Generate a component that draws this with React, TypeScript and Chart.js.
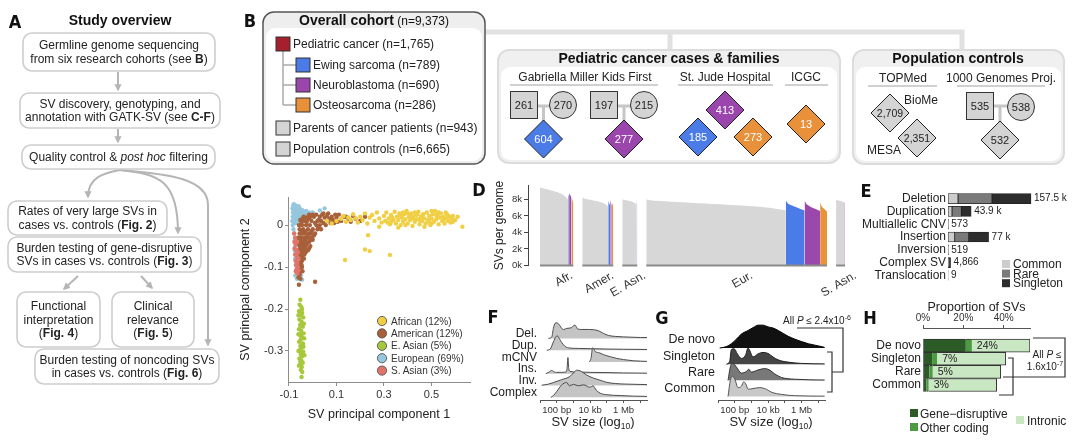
import React, { useEffect, useRef } from "react";
import { Chart, registerables } from "chart.js";

Chart.register(...registerables);

const FONT = "'Liberation Sans', Arial, Helvetica, sans-serif";
const NARROW = "'Liberation Sans Narrow', 'DejaVu Sans Condensed', 'Liberation Sans', sans-serif";
Chart.defaults.font.family = FONT;
Chart.defaults.color = "#222";

// ---------------- Panel C : SV principal components ----------------
const pcaGroups = ["African (12%)", "American (12%)", "E. Asian (5%)", "European (69%)", "S. Asian (3%)"];
const pcaColors = ["#f1cf45", "#a7603a", "#a7c83a", "#95c7de", "#e2736a"];
const pcaDrawOrder = [1, 3, 0, 4, 2];
const pcaXTicks = [-0.1, 0.1, 0.3, 0.5];
const pcaYTicks = [0, -0.1, -0.2, -0.3];

const africanPC = [
  [0.1, 0.01], [0.12, 0.015], [0.13, 0.022], [0.14, 0.008], [0.15, 0.018], [0.16, 0.012], [0.17, 0.026], [0.18, 0.016],
  [0.19, 0.006], [0.2, 0.02], [0.21, 0.012], [0.22, 0.028], [0.23, 0.004], [0.24, 0.018], [0.25, 0.024], [0.26, 0.01],
  [0.27, 0.03], [0.28, 0.016], [0.29, 0.006], [0.3, 0.022], [0.305, 0.01], [0.31, 0.03], [0.32, 0.016], [0.325, 0.002],
  [0.33, 0.024], [0.34, 0.012], [0.345, 0.032], [0.35, 0.004], [0.355, 0.02], [0.36, 0.012], [0.365, 0.028], [0.37, 0.0],
  [0.375, 0.018], [0.38, 0.008], [0.385, 0.026], [0.39, 0.014], [0.395, 0.034], [0.4, 0.004], [0.405, 0.02], [0.41, 0.012],
  [0.415, 0.028], [0.42, -0.002], [0.425, 0.016], [0.43, 0.008], [0.435, 0.024], [0.44, 0.014], [0.445, 0.032], [0.45, 0.002],
  [0.455, 0.02], [0.46, 0.01], [0.465, 0.026], [0.47, 0.016], [0.475, 0.004], [0.48, 0.03], [0.485, 0.012], [0.49, 0.022],
  [0.495, 0.0], [0.5, 0.016], [0.505, 0.026], [0.51, 0.008], [0.515, 0.034], [0.52, 0.014], [0.525, 0.022], [0.53, 0.002],
  [0.535, 0.018], [0.54, 0.028], [0.545, 0.01], [0.55, 0.02], [0.555, 0.004], [0.56, 0.016], [0.565, 0.026], [0.57, 0.01],
  [0.575, 0.02], [0.58, 0.006], [0.585, 0.016], [0.59, 0.022], [0.6, 0.012], [0.61, 0.02], [0.63, -0.004], [0.36, -0.006],
  [0.43, 0.03], [0.5, 0.034], [0.33, 0.008], [0.41, 0.024], [0.47, -0.004], [0.53, 0.03], [0.233, -0.024], [0.22, -0.058],
  [0.24, -0.062], [0.325, -0.071], [0.136, -0.083], [0.08, 0.004], [0.06, 0.01], [0.28, -0.004], [0.38, 0.03],
  [0.315, 0.006], [0.335, 0.018], [0.37, 0.022], [0.39, 0.0], [0.42, 0.02], [0.44, 0.026], [0.46, 0.018], [0.49, 0.008],
  [0.52, 0.024], [0.55, 0.012], [0.57, 0.022], [0.59, 0.008], [0.4, 0.028], [0.45, 0.012], [0.5, 0.004], [0.56, 0.03],
];
const americanPC = [
  [-0.058, 0.0], [-0.055, -0.01], [-0.052, 0.012], [-0.05, -0.02], [-0.048, 0.005], [-0.045, -0.03], [-0.043, 0.015], [-0.04, -0.01],
  [-0.038, -0.04], [-0.035, 0.01], [-0.033, -0.02], [-0.03, -0.05], [-0.028, 0.0], [-0.025, 0.018], [-0.022, -0.03], [-0.02, -0.01],
  [-0.018, 0.015], [-0.015, -0.04], [-0.012, 0.0], [-0.01, 0.02], [-0.008, -0.02], [-0.005, 0.01], [0.0, -0.01], [0.005, 0.02],
  [0.01, 0.005], [0.015, 0.025], [0.02, 0.01], [0.025, -0.005], [0.03, 0.02], [0.035, 0.01], [0.04, 0.025], [0.045, 0.005],
  [0.05, 0.018], [0.06, 0.01], [0.065, 0.028], [0.07, 0.015], [0.08, 0.02], [0.09, 0.005], [0.1, 0.018], [0.11, 0.025],
  [0.12, 0.01], [0.13, 0.02], [0.15, 0.015], [0.17, 0.022], [0.2, 0.01], [0.22, 0.02], [-0.062, -0.03], [-0.06, -0.045],
  [-0.058, -0.06], [-0.055, -0.07], [-0.05, -0.055], [-0.047, -0.065], [-0.052, -0.08], [-0.06, -0.09], [-0.056, -0.1], [-0.05, -0.09],
  [-0.045, -0.075], [-0.04, -0.06], [-0.035, -0.07], [-0.03, -0.03], [-0.025, -0.045], [-0.02, -0.06], [-0.01, -0.05], [0.0, -0.035],
  [0.01, -0.02], [-0.064, -0.11], [-0.06, -0.125], [-0.058, -0.142], [0.01, -0.135], [-0.04, -0.02], [-0.015, 0.025], [0.0, 0.025],
  [-0.045, 0.0], [-0.035, -0.045], [-0.025, 0.008], [-0.015, -0.02], [-0.005, -0.03], [0.02, -0.01], [0.03, 0.0], [0.045, 0.028],
  [0.055, 0.0], [0.075, 0.005], [0.095, 0.025], [-0.055, -0.03], [-0.05, -0.04], [-0.045, -0.015], [-0.04, -0.045], [-0.035, -0.035],
  [-0.03, -0.015], [-0.025, -0.06], [-0.02, -0.025], [-0.015, -0.055], [-0.01, -0.035], [-0.005, -0.015], [0.005, -0.025], [0.015, 0.0],
  [0.025, 0.012], [0.035, -0.01], [-0.055, -0.05], [-0.048, -0.045], [-0.042, -0.055], [-0.037, -0.08], [-0.03, -0.065], [-0.045, -0.1],
  [-0.05, -0.11], [0.06, 0.022], [0.085, 0.012], [0.105, 0.008], [0.14, 0.02], [0.16, 0.008], [0.18, 0.015], [-0.038, 0.02],
  [-0.055, -0.02], [-0.052, -0.035], [-0.048, -0.06], [-0.045, -0.085], [-0.05, -0.1], [-0.042, -0.035], [-0.038, -0.055],
  [-0.033, -0.045], [-0.028, -0.04], [-0.053, -0.065], [-0.047, -0.095], [-0.043, -0.11], [-0.055, -0.118], [-0.052, -0.128],
];
const eastAsianPC = [
  [-0.052, -0.178], [-0.055, -0.19], [-0.048, -0.195], [-0.058, -0.205], [-0.045, -0.21], [-0.052, -0.215], [-0.04, -0.22],
  [-0.056, -0.225], [-0.047, -0.23], [-0.053, -0.238], [-0.042, -0.242], [-0.058, -0.248], [-0.049, -0.252], [-0.038, -0.258],
  [-0.054, -0.262], [-0.044, -0.268], [-0.05, -0.272], [-0.057, -0.278], [-0.041, -0.282], [-0.052, -0.288], [-0.046, -0.292],
  [-0.055, -0.298], [-0.04, -0.302], [-0.05, -0.308], [-0.044, -0.312], [-0.056, -0.318], [-0.048, -0.322], [-0.042, -0.328],
  [-0.053, -0.332], [-0.046, -0.338], [-0.05, -0.345], [-0.044, -0.35], [-0.047, -0.362], [-0.06, -0.26], [-0.036, -0.27],
  [-0.06, -0.3], [-0.037, -0.235], [-0.06, -0.215], [-0.035, -0.31], [-0.045, -0.2], [-0.052, -0.325], [-0.058, -0.335],
  [-0.039, -0.29], [-0.049, -0.24], [-0.043, -0.285], [-0.051, -0.3], [-0.047, -0.205], [-0.05, -0.262],
];
const europeanPC = [
  [-0.085, 0.04], [-0.083, 0.03], [-0.082, 0.045], [-0.08, 0.05], [-0.08, 0.035], [-0.079, 0.02], [-0.078, 0.042], [-0.077, 0.028],
  [-0.076, 0.012], [-0.075, 0.048], [-0.074, 0.036], [-0.073, 0.022], [-0.072, 0.005], [-0.071, 0.04], [-0.07, 0.03], [-0.069, 0.015],
  [-0.068, 0.045], [-0.067, 0.025], [-0.066, 0.008], [-0.065, 0.035], [-0.064, 0.02], [-0.062, 0.04], [-0.061, 0.028], [-0.06, 0.012],
  [-0.058, 0.033], [-0.056, 0.022], [-0.055, 0.04], [-0.053, 0.015], [-0.05, 0.03], [-0.048, 0.02], [-0.045, 0.036], [-0.042, 0.026],
  [-0.04, 0.012], [-0.036, 0.03], [-0.032, 0.02], [-0.028, 0.034], [-0.024, 0.025], [-0.02, 0.015], [-0.015, 0.03], [-0.01, 0.022],
  [0.0, 0.03], [0.01, 0.025], [0.05, 0.04], [0.03, 0.035], [-0.086, 0.01], [-0.084, 0.0], [-0.081, -0.01], [-0.078, -0.02],
  [-0.075, -0.035], [-0.072, -0.05], [-0.07, -0.065], [-0.074, -0.08], [-0.071, -0.095], [-0.068, -0.11], [-0.073, -0.12],
  [-0.066, -0.128], [-0.069, -0.04], [-0.076, -0.06], [-0.064, -0.09], [-0.062, -0.115], [-0.05, -0.12], [-0.045, -0.13],
  [-0.084, 0.02], [-0.081, 0.04], [-0.077, 0.005], [-0.074, 0.045], [-0.07, 0.02], [-0.066, 0.042], [-0.063, 0.03], [-0.059, 0.045],
];
const southAsianPC = [
  [-0.078, -0.02], [-0.074, -0.03], [-0.072, -0.045], [-0.076, -0.055], [-0.069, -0.06], [-0.074, -0.07], [-0.067, -0.075],
  [-0.072, -0.085], [-0.065, -0.09], [-0.07, -0.095], [-0.063, -0.1], [-0.068, -0.105], [-0.065, -0.115], [-0.06, -0.108],
  [-0.066, -0.04], [-0.062, -0.065], [-0.06, -0.08], [-0.071, -0.11], [-0.077, -0.04],
];

// ---------------- Panel D : SVs per genome (thousands), sorted per sample ----------------
const popLabels = ["Afr.", "Amer.", "E. Asn.", "Eur.", "S. Asn."];
const cohortColors = ["#d7d7d7", "#4a7be6", "#9a48ab", "#e8923a"]; // controls, Ewing, neuroblastoma, osteosarcoma
const afrCounts = [980, 30, 80, 65];
const amerCounts = [900, 70, 50, 55];
const easCounts = [480, 15, 10, 15];
const eurCounts = [4840, 650, 540, 240];
const sasCounts = [280, 5, 20, 5];
const afrSVs = [
  [9.43, 9.38, 9.32, 9.27, 9.22, 9.17, 9.12, 9.06, 9.0, 8.94, 8.87, 8.79, 8.7, 8.58, 8.42, 8.2, 7.95],
  [8.6, 8.3], [8.75, 8.5, 8.2], [8.3, 8.1, 7.8, 7.5],
];
const amerSVs = [
  [8.2, 8.1, 8.05, 8.0, 7.95, 7.9, 7.85, 7.8, 7.74, 7.68, 7.6, 7.5, 7.35, 7.1],
  [7.8, 7.5, 7.2], [7.95, 7.6, 7.3], [7.6, 7.4, 7.0],
];
const easSVs = [
  [8.0, 7.95, 7.9, 7.85, 7.8, 7.72, 7.6, 7.4],
  [7.9, 7.6], [7.7], [7.6, 7.4],
];
const eurSVs = [
  [7.98, 7.85, 7.8, 7.75, 7.7, 7.65, 7.6, 7.55, 7.5, 7.45, 7.4, 7.35, 7.3, 7.25, 7.2, 7.13, 7.05, 6.95, 6.8, 6.7],
  [7.86, 7.5, 7.35, 7.25, 7.15, 7.05, 6.95, 6.85, 6.75, 6.65],
  [7.86, 7.4, 7.25, 7.12, 7.0, 6.9, 6.8, 6.7, 6.6],
  [7.67, 7.2, 7.0, 6.85, 6.7, 6.5],
];
const sasSVs = [
  [7.98, 7.9, 7.85, 7.8, 7.72, 7.6],
  [7.7], [7.75, 7.6], [7.5],
];
const dYTicks = [0, 2, 4, 6, 8];

// ---------------- Panel E : SV counts by class (thousands) ----------------
const svClasses = ["Deletion", "Duplication", "Multiallelic CNV", "Insertion", "Inversion", "Complex SV", "Translocation"];
const svCommon = [19.0, 7.6, 0.05, 12.7, 0.05, 0.3, 0.0];
const svRare = [64.5, 17.7, 0.2, 26.6, 0.17, 1.2, 0.002];
const svSingleton = [74.0, 18.6, 0.323, 37.7, 0.299, 3.366, 0.007];
const svTotalLabels = ["157.5 k", "43.9 k", "573", "77 k", "519", "4,866", "9"];
const freqLabels = ["Common", "Rare", "Singleton"];
const freqColors = ["#cdcdcd", "#7a7a7a", "#2d2d2d"];

// ---------------- Panel F : SV size density by class ([log10 size, density]) ----------------
const fRows = ["Del.", "Dup.", "mCNV", "Ins.", "Inv.", "Complex"];
const fDel = [[1.5, 0], [1.7, 0.1], [1.8, 0.85], [1.9, 1.28], [2.0, 1.32], [2.1, 1.25], [2.25, 0.95], [2.4, 0.75], [2.6, 0.85], [2.9, 0.92], [3.05, 1.12], [3.15, 1.05], [3.25, 0.8], [3.5, 0.76], [3.9, 0.76], [4.2, 0.74], [4.5, 0.65], [4.8, 0.42], [5.1, 0.25], [5.5, 0.17], [6.0, 0.13], [6.5, 0.1], [7.0, 0.08], [7.4, 0.07]];
const fDup = [[1.4, 0], [1.6, 0.08], [1.8, 0.7], [1.95, 1.15], [2.05, 1.2], [2.15, 1.0], [2.3, 0.65], [2.5, 0.32], [2.8, 0.18], [3.3, 0.15], [4.0, 0.13], [5.0, 0.1], [6.0, 0.08], [7.4, 0.06]];
const fMcnv = [[3.95, 0], [4.05, 0.3], [4.15, 1.2], [4.22, 1.1], [4.3, 0.88], [4.5, 0.8], [4.8, 0.62], [5.2, 0.45], [5.6, 0.3], [6.0, 0.2], [6.6, 0.1], [7.4, 0.05]];
const fIns = [[1.35, 0], [1.55, 0.15], [1.7, 0.28], [1.85, 0.15], [2.0, 0.12], [2.3, 0.12], [2.55, 0.15], [2.62, 0.45], [2.67, 1.38], [2.72, 0.45], [2.8, 0.2], [3.2, 0.15], [4.0, 0.12], [5.0, 0.1], [6.0, 0.07], [7.4, 0.05]];
const fInv = [[1.1, 0.03], [1.5, 0.12], [1.8, 0.25], [2.3, 0.5], [2.8, 0.78], [3.05, 1.15], [3.2, 1.3], [3.4, 1.25], [3.8, 0.88], [4.2, 0.63], [4.6, 0.45], [5.0, 0.27], [5.5, 0.17], [6.2, 0.12], [7.4, 0.08]];
const fComplex = [[1.65, 0], [1.8, 0.15], [2.0, 0.5], [2.3, 1.06], [2.6, 1.26], [2.75, 0.98], [3.0, 1.1], [3.3, 0.98], [3.6, 1.06], [4.0, 0.86], [4.17, 0.98], [4.37, 0.6], [4.6, 0.35], [5.0, 0.22], [5.8, 0.15], [6.6, 0.1], [7.4, 0.08]];
const sizeTicks = [1, 2, 3, 4, 5, 6, 7];
const sizeTickLabels = ["", "100 bp", "", "10 kb", "", "1 Mb", ""];

// ---------------- Panel G : SV size density by frequency ----------------
const gRows = ["De novo", "Singleton", "Rare", "Common"];
const gColors = ["#111111", "#454545", "#787878", "#c8c8c8"];
const gDeNovo = [[1.1, 0], [1.5, 0.09], [1.8, 0.27], [2.1, 0.55], [2.4, 0.87], [2.8, 1.09], [3.1, 1.27], [3.4, 1.42], [3.7, 1.42], [4.0, 1.31], [4.3, 1.24], [4.6, 1.09], [4.9, 0.91], [5.2, 0.73], [5.6, 0.55], [6.0, 0.4], [6.4, 0.27], [6.8, 0.18], [7.2, 0.09], [7.38, 0.04]];
const gSingleton = [[1.5, 0], [1.7, 0.18], [1.8, 0.91], [1.96, 0.96], [2.16, 0.64], [2.4, 0.36], [2.64, 0.55], [2.8, 1.0], [2.91, 0.82], [3.09, 0.45], [3.39, 0.64], [3.69, 0.73], [3.99, 0.67], [4.29, 0.45], [4.59, 0.27], [5.18, 0.13], [5.98, 0.05], [7.38, 0.02]];
const gRare = [[1.6, 0], [1.76, 0.91], [1.9, 1.05], [2.1, 0.82], [2.4, 0.45], [2.7, 0.55], [2.84, 0.69], [3.0, 0.51], [3.39, 0.64], [3.79, 0.73], [4.09, 0.64], [4.39, 0.4], [4.79, 0.18], [5.58, 0.07], [7.38, 0.02]];
const gCommon = [[1.6, 0], [1.74, 1.0], [1.84, 1.25], [2.0, 1.09], [2.2, 0.55], [2.4, 0.64], [2.54, 0.91], [2.66, 0.78], [2.8, 0.45], [3.09, 0.49], [3.49, 0.55], [3.89, 0.45], [4.19, 0.27], [4.79, 0.13], [5.58, 0.05], [7.38, 0.02]];

// ---------------- Panel H : proportion of SVs (%) ----------------
const hRows = ["De novo", "Singleton", "Rare", "Common"];
const hGeneDisruptive = [21.2, 4.5, 3.2, 1.6];
const hOtherCoding = [3.0, 2.5, 1.6, 1.2];
const hIntronic = [28.8, 34.0, 33.7, 33.7];
const hCodingLabels = ["24%", "7%", "5%", "3%"];
const hXTicks = [0, 20, 40];
const hColors = ["#2c5b28", "#4d9a45", "#c9e7c2"];

// ---------------- helpers ----------------
const fixW = (w: number) => (s: any) => { s.width = w; };
const fixH = (h: number) => (s: any) => { s.height = h; };
const setTicks = (vals: number[]) => (s: any) => { s.ticks = vals.map((v) => ({ value: v })); };
const base = { animation: false, responsive: false, devicePixelRatio: 1, events: [] as string[] };
const noPlug = { legend: { display: false }, tooltip: { enabled: false } };
const fmtPC = (v: number) => (v === 0 ? "0" : (v < 0 ? "-" : "") + Math.abs(v).toFixed(1));

function configC() {
  const series = [africanPC, americanPC, eastAsianPC, europeanPC, southAsianPC];
  const axisCol = "#8c8c8c";
  return {
    type: "scatter",
    data: {
      datasets: series.map((pts, i) => ({
        label: pcaGroups[i],
        data: pts.map(([x, y]) => ({ x, y })),
        backgroundColor: pcaColors[i],
        borderWidth: 0,
        pointRadius: 2.2,
        order: pcaDrawOrder[i],
      })),
    },
    options: {
      ...base,
      layout: { padding: { top: 9, right: 5, bottom: 0, left: 0 } },
      plugins: noPlug,
      scales: {
        x: {
          type: "linear", min: -0.104, max: 0.662, afterFit: fixH(46), afterBuildTicks: setTicks(pcaXTicks),
          grid: { drawOnChartArea: false, color: axisCol, tickLength: 4 }, border: { color: axisCol },
          ticks: { font: { size: 11 }, color: "#333", padding: 2, maxRotation: 0, autoSkip: false, callback: fmtPC },
          title: { display: true, text: "SV principal component 1", font: { size: 12.5 }, color: "#222", padding: { top: 0, bottom: 5.5 } },
        },
        y: {
          type: "linear", min: -0.374, max: 0.067, afterFit: fixW(53), afterBuildTicks: setTicks(pcaYTicks),
          grid: { drawOnChartArea: false, color: axisCol, tickLength: 3 }, border: { color: axisCol },
          ticks: { font: { size: 11 }, color: "#333", padding: 2, autoSkip: false, callback: fmtPC },
          title: { display: true, text: "SV principal component 2", font: { size: 12.5 }, color: "#222", padding: { top: 3.5, bottom: 0 } },
        },
      },
    },
  };
}

const D_GAP = 312;
const D_LEAD = 416;
const D_TRAIL = 104;
function buildD() {
  const pops = [afrSVs, amerSVs, easSVs, eurSVs, sasSVs];
  const counts = [afrCounts, amerCounts, easCounts, eurCounts, sasCounts];
  const segs: any[] = [];
  const groups: any[] = [];
  let pos = 0;
  pops.forEach((pop, p) => {
    const start = pos;
    pop.forEach((vals, c) => {
      const n = counts[p][c];
      const pts = vals.length === 1
        ? [{ x: pos, y: vals[0] }, { x: pos + n, y: vals[0] }]
        : vals.map((v, k) => ({ x: pos + (n * k) / (vals.length - 1), y: v }));
      segs.push({ pts, color: cohortColors[c] });
      pos += n;
    });
    groups.push({ start, end: pos, label: popLabels[p] });
    pos += D_GAP;
  });
  return { segs, groups, total: pos - D_GAP };
}

function configD() {
  const { segs, groups, total } = buildD();
  const plugin = {
    id: "dgroups",
    afterDatasetsDraw(chart: any) {
      const { ctx, chartArea, scales } = chart;
      const x = scales.x;
      ctx.save();
      groups.forEach((g: any) => {
        const x0 = x.getPixelForValue(g.start);
        const x1 = x.getPixelForValue(g.end);
        ctx.strokeStyle = "#8a8a8a";
        ctx.lineWidth = 2;
        ctx.beginPath();
        ctx.moveTo(x0, chartArea.bottom);
        ctx.lineTo(x1, chartArea.bottom);
        ctx.stroke();
        ctx.save();
        ctx.translate((x0 + x1) / 2 + 12, chartArea.bottom + 4);
        ctx.rotate(-Math.PI / 6);
        ctx.font = `12px ${FONT}`;
        ctx.fillStyle = "#333";
        ctx.textAlign = "right";
        ctx.textBaseline = "top";
        ctx.fillText(g.label, 0, 0);
        ctx.restore();
      });
      ctx.restore();
    },
  };
  return {
    type: "line",
    data: {
      datasets: segs.map((s: any) => ({
        data: s.pts, fill: "origin", backgroundColor: s.color, borderColor: "rgba(0,0,0,0)", borderWidth: 0, pointRadius: 0, tension: 0,
      })),
    },
    options: {
      ...base,
      layout: { padding: { top: 3, right: 13, bottom: 32.5, left: 0 } },
      plugins: noPlug,
      scales: {
        x: { type: "linear", display: false, min: -D_LEAD, max: total + D_TRAIL },
        y: {
          min: 0, max: 9.66, afterFit: fixW(39), afterBuildTicks: setTicks(dYTicks),
          grid: { drawOnChartArea: false, color: "#444", tickLength: 4 }, border: { color: "#444" },
          ticks: { font: { size: 9.5 }, color: "#333", padding: 2, autoSkip: false, callback: (v: number) => `${v}k` },
          title: { display: true, text: "SVs per genome", font: { size: 12 }, color: "#222", padding: { top: 3.8, bottom: 0 } },
        },
      },
    },
    plugins: [plugin],
  };
}

function configE() {
  const parts = [svCommon, svRare, svSingleton];
  const plugin = {
    id: "elabels",
    afterDatasetsDraw(chart: any) {
      const { ctx, scales } = chart;
      ctx.save();
      ctx.font = `10px ${FONT}`;
      ctx.fillStyle = "#222";
      ctx.textBaseline = "middle";
      svClasses.forEach((_, i) => {
        const tot = svCommon[i] + svRare[i] + svSingleton[i];
        ctx.fillText(svTotalLabels[i], scales.x.getPixelForValue(tot) + 3, scales.y.getPixelForValue(i));
      });
      ctx.restore();
    },
  };
  return {
    type: "bar",
    data: {
      labels: svClasses,
      datasets: parts.map((vals, k) => ({
        label: freqLabels[k], data: vals, backgroundColor: freqColors[k], borderColor: "#222", borderWidth: 0.8,
        borderSkipped: false, barThickness: 10,
      })),
    },
    options: {
      ...base,
      indexAxis: "y",
      layout: { padding: { top: 1.5, right: 5, bottom: 1.5, left: 0 } },
      plugins: noPlug,
      scales: {
        x: { stacked: true, display: false, min: 0, max: 241 },
        y: {
          stacked: true, afterFit: fixW(98), grid: { display: false, drawTicks: false }, border: { display: false },
          ticks: { font: { size: 12 }, color: "#222", padding: 2, autoSkip: false },
        },
      },
    },
    plugins: [plugin],
  };
}

function ridgeConfig(rows: string[], curves: number[][][], fills: string[], borders: string[], yMin: number, yMax: number,
  yAxisW: number, labelLift: number, labelSize: number, padRight: number) {
  const n = rows.length;
  return {
    type: "line",
    data: {
      datasets: curves.map((pts, i) => {
        const b = n - 1 - i;
        return {
          data: pts.map(([lx, d]) => ({ x: lx, y: b + d })),
          fill: { value: b }, backgroundColor: fills[i], borderColor: borders[i], borderWidth: 1,
          pointRadius: 0, tension: 0.3, cubicInterpolationMode: "monotone", order: b,
        };
      }),
    },
    options: {
      ...base,
      layout: { padding: { top: 0, right: padRight, bottom: 0, left: 0 } },
      plugins: noPlug,
      scales: {
        x: {
          type: "linear", min: 1, max: 7.4, afterFit: fixH(20), afterBuildTicks: setTicks(sizeTicks),
          grid: { drawOnChartArea: false, color: "#555", tickLength: 3 }, border: { color: "#555" },
          ticks: { font: { size: 9.5 }, color: "#333", padding: 2, maxRotation: 0, minRotation: 0, autoSkip: false,
            callback: (_v: number, i: number) => sizeTickLabels[i] },
        },
        y: {
          min: yMin, max: yMax, afterFit: fixW(yAxisW),
          afterBuildTicks: setTicks(rows.map((_, i) => n - 1 - i + labelLift)),
          grid: { display: false, drawTicks: false }, border: { display: false },
          ticks: { font: { size: labelSize }, color: "#222", padding: 3, autoSkip: false,
            callback: (v: number) => rows[n - 1 - Math.round(v - labelLift)] },
        },
      },
    },
  };
}

function configF() {
  const curves = [fDel, fDup, fMcnv, fIns, fInv, fComplex];
  return ridgeConfig(fRows, curves, curves.map(() => "#c4c4c4"), curves.map(() => "#4d4d4d"), -0.227, 6.97, 60, 0.4, 12, 3);
}

function configG() {
  const curves = [gDeNovo, gSingleton, gRare, gCommon];
  return ridgeConfig(gRows, curves, gColors, ["#000", "#222", "#333", "#555"], -0.218, 5.019, 63, 0.5, 12.5, 10);
}

function configH() {
  const parts = [hGeneDisruptive, hOtherCoding, hIntronic];
  const bws = [
    { top: 1, bottom: 1, left: 1, right: 0 },
    { top: 1, bottom: 1, left: 0, right: 0 },
    { top: 1, bottom: 1, left: 0, right: 1 },
  ];
  const plugin = {
    id: "hlabels",
    afterDatasetsDraw(chart: any) {
      const { ctx, scales } = chart;
      ctx.save();
      ctx.font = `10.5px ${FONT}`;
      ctx.fillStyle = "#222";
      ctx.textBaseline = "middle";
      hRows.forEach((_, i) => {
        ctx.fillText(hCodingLabels[i], scales.x.getPixelForValue(hGeneDisruptive[i] + hOtherCoding[i]) + 5, scales.y.getPixelForValue(i));
      });
      ctx.restore();
    },
  };
  return {
    type: "bar",
    data: {
      datasets: parts.map((vals, k) => ({
        data: vals.map((v, i) => ({ x: v, y: i })), backgroundColor: hColors[k], borderColor: "#333", borderWidth: bws[k],
        borderSkipped: false, barThickness: 13,
      })),
    },
    options: {
      ...base,
      indexAxis: "y",
      layout: { padding: { top: 0, right: 50, bottom: 5, left: 0 } },
      plugins: noPlug,
      scales: {
        x: {
          position: "top", stacked: true, min: 0, max: 53, afterFit: fixH(28), afterBuildTicks: setTicks(hXTicks),
          grid: { drawOnChartArea: false, color: "#555", tickLength: 3 }, border: { color: "#555" },
          ticks: { font: { size: 10 }, color: "#333", padding: 1, maxRotation: 0, autoSkip: false, callback: (v: number) => `${v}%` },
          title: { display: true, text: "Proportion of SVs", font: { size: 12.5 }, color: "#222", padding: { top: 0.5, bottom: 0 } },
        },
        y: {
          type: "linear", stacked: true, reverse: true, min: -0.649, max: 3.514, afterFit: fixW(83),
          afterBuildTicks: setTicks(hRows.map((_, i) => i)),
          grid: { display: false, drawTicks: false }, border: { display: false },
          ticks: { font: { size: 12 }, color: "#222", padding: 2, autoSkip: false, callback: (v: number) => hRows[Math.round(v)] },
        },
      },
    },
    plugins: [plugin],
  };
}

function ChartCanvas({ x, y, w, h, make }: { x: number; y: number; w: number; h: number; make: () => any }) {
  const ref = useRef<HTMLCanvasElement>(null);
  useEffect(() => {
    const chart = new Chart(ref.current as HTMLCanvasElement, make());
    return () => chart.destroy();
  }, []);
  return <canvas ref={ref} width={w} height={h} style={{ position: "absolute", left: x, top: y, width: w, height: h }} />;
}

// ---------------- diagram helpers (panels A & B) ----------------
function rich(s: string) {
  const parts = s.split(/(\*\*[^*]+\*\*|_[^_]+_)/).filter(Boolean);
  return parts.map((p, i) =>
    p.startsWith("**") ? <tspan key={i} fontWeight="bold">{p.slice(2, -2)}</tspan>
      : p.startsWith("_") ? <tspan key={i} fontStyle="italic">{p.slice(1, -1)}</tspan>
        : <tspan key={i}>{p}</tspan>);
}

const flowBoxes = [
  { x: 23, y: 33, w: 192, h: 38, lines: ["Germline genome sequencing", "from six research cohorts (see **B**)"] },
  { x: 20, y: 93, w: 200, h: 35, lines: ["SV discovery, genotyping, and", "annotation with GATK-SV (see **C-F**)"] },
  { x: 22, y: 145, w: 193, h: 24, lines: ["Quality control & _post hoc_ filtering"] },
  { x: 8, y: 201, w: 159, h: 34, lines: ["Rates of very large SVs in", "cases vs. controls (**Fig. 2**)"] },
  { x: 8, y: 237, w: 193, h: 35, lines: ["Burden testing of gene-disruptive", "SVs in cases vs. controls (**Fig. 3**)"] },
  { x: 17, y: 292, w: 83, h: 55, lines: ["Functional", "interpretation", "(**Fig. 4**)"] },
  { x: 112, y: 292, w: 82, h: 55, lines: ["Clinical", "relevance", "(**Fig. 5**)"] },
  { x: 35, y: 349, w: 184, h: 35, lines: ["Burden testing of noncoding SVs", "in cases vs. controls (**Fig. 6**)"] },
];

function FlowBox({ x, y, w, h, lines }: any) {
  const lh = 13.5;
  const y0 = y + h / 2 - ((lines.length - 1) * lh) / 2 + 4.2;
  return (
    <g>
      <rect x={x} y={y} width={w} height={h} rx={9} fill="#fff" stroke="#cdcdcd" strokeWidth={1.6} />
      {lines.map((l: string, i: number) => (
        <text key={i} x={x + w / 2} y={y0 + i * lh} textAnchor="middle" fontSize={12} fill="#222" style={{ whiteSpace: "pre" }}>{rich(l)}</text>
      ))}
    </g>
  );
}

const RED = "#a51f2c", BLUE = "#4a7be6", PURPLE = "#9a46ad", ORANGE = "#e8903a", GRAY = "#d4d4d4";
const cohortItems = [
  { label: "Pediatric cancer (n=1,765)", color: RED, x: 276, y: 37 },
  { label: "Ewing sarcoma (n=789)", color: BLUE, x: 296, y: 58 },
  { label: "Neuroblastoma (n=690)", color: PURPLE, x: 296, y: 78 },
  { label: "Osteosarcoma (n=286)", color: ORANGE, x: 296, y: 98 },
  { label: "Parents of cancer patients (n=943)", color: GRAY, x: 276, y: 121 },
  { label: "Population controls (n=6,665)", color: GRAY, x: 276, y: 142 },
];

function Sq({ cx, cy, t }: any) {
  return (<g><rect x={cx - 13.5} y={cy - 13.5} width={27} height={27} fill={GRAY} stroke="#333" strokeWidth={1} />
    <text x={cx} y={cy + 4} textAnchor="middle" fontSize={11} fill="#222">{t}</text></g>);
}
function Ci({ cx, cy, t }: any) {
  return (<g><circle cx={cx} cy={cy} r={13.5} fill={GRAY} stroke="#333" strokeWidth={1} />
    <text x={cx} y={cy + 4} textAnchor="middle" fontSize={11} fill="#222">{t}</text></g>);
}
function Di({ cx, cy, t, fill, fs = 11 }: any) {
  const h = 19;
  return (<g><polygon points={`${cx},${cy - h} ${cx + h},${cy} ${cx},${cy + h} ${cx - h},${cy}`} fill={fill} stroke="#222" strokeWidth={1} />
    <text x={cx} y={cy + 4} textAnchor="middle" fontSize={fs} fill={fill === GRAY ? "#222" : "#fff"}>{t}</text></g>);
}

function Letter({ x, y, t }: any) {
  return <text x={x} y={y + 6.5} textAnchor="middle" fontSize={18} fontWeight="bold" fontFamily={NARROW} fill="#111">{t}</text>;
}

function Overlay() {
  const ac = "#b5b5b5";
  const link = "#c6c6c6";
  return (
    <svg width={1080} height={443} style={{ position: "absolute", left: 0, top: 0, pointerEvents: "none" }} fontFamily={FONT}>
      <defs>
        <marker id="arr" viewBox="0 0 10 10" refX="8" refY="5" markerWidth="3.6" markerHeight="3.6" orient="auto">
          <path d="M0,0 L10,5 L0,10 z" fill={ac} />
        </marker>
      </defs>
      {/* Panel letters */}
      <Letter x={15} y={21} t="A" />
      <Letter x={250} y={20} t="B" />
      <Letter x={246} y={191} t="C" />
      <Letter x={479} y={189} t="D" />
      <Letter x={866} y={190} t="E" />
      <Letter x={493} y={316} t="F" />
      <Letter x={662} y={317} t="G" />
      <Letter x={870} y={317} t="H" />

      {/* Panel A */}
      <text x={120} y={25} textAnchor="middle" fontSize={14} fontWeight="bold" fill="#111">Study overview</text>
      <g stroke={ac} strokeWidth={2} fill="none">
        <path d="M118 72 V90" markerEnd="url(#arr)" />
        <path d="M118 129 V142" markerEnd="url(#arr)" />
        <path d="M120 170 C 104 173, 88 177, 88 197" markerEnd="url(#arr)" />
        <path d="M120 170 C 160 174, 178 181, 178 233" markerEnd="url(#arr)" />
        <path d="M120 170 C 170 174, 208 179, 208 205 L 208 345" markerEnd="url(#arr)" />
        <path d="M78 276 L64 289" markerEnd="url(#arr)" />
        <path d="M141 276 L152 288" markerEnd="url(#arr)" />
      </g>
      {flowBoxes.map((b, i) => <FlowBox key={i} {...b} />)}

      {/* Panel B connectors */}
      <path d="M485 32 H962 V52" stroke="#e1e1e1" strokeWidth={5} fill="none" />
      <path d="M670 32 V52" stroke="#e1e1e1" strokeWidth={5} fill="none" />

      {/* Overall cohort */}
      <rect x={263} y={12} width={222} height={152} rx={11} fill="#eeeeee" stroke="#555" strokeWidth={1.5} />
      <rect x={266} y={28} width={216} height={133} rx={9} fill="#fff" />
      <text x={374} y={25} textAnchor="middle" fill="#111" style={{ whiteSpace: "pre" }}>
        <tspan fontWeight="bold" fontSize={14}>Overall cohort</tspan><tspan fontSize={12}> (n=9,373)</tspan>
      </text>
      <path d="M283 51 V105 M283 65 H296 M283 85 H296 M283 105 H296" stroke="#aaa" strokeWidth={1.5} fill="none" />
      {cohortItems.map((c, i) => (
        <g key={i}>
          <rect x={c.x} y={c.y} width={14} height={14} fill={c.color} stroke="#333" strokeWidth={1} />
          <text x={c.x + 17} y={c.y + 11.3} fontSize={12} fill="#222">{c.label}</text>
        </g>
      ))}

      {/* Pediatric cancer cases & families */}
      <rect x={498} y={50} width={342} height={113} rx={11} fill="#f0f0f0" stroke="#dcdcdc" strokeWidth={2} />
      <rect x={501} y={67} width={336} height={93} rx={9} fill="#fff" />
      <text x={669} y={63} textAnchor="middle" fontSize={14} fontWeight="bold" fill="#111">Pediatric cancer cases &amp; families</text>
      <text x={585} y={81} textAnchor="middle" fontSize={12} fill="#222">Gabriella Miller Kids First</text>
      <text x={725} y={81} textAnchor="middle" fontSize={12} fill="#222">St. Jude Hospital</text>
      <text x={806} y={81} textAnchor="middle" fontSize={12} fill="#222">ICGC</text>
      <g stroke="#d0d0d0" strokeWidth={2}>
        <path d="M510 85 H658 M678 85 H773 M785 85 H828" />
      </g>
      <g stroke={link} strokeWidth={3} fill="none">
        <path d="M537 106 H550 M543.5 106 V121" />
        <path d="M617 106 H631 M624 106 V121" />
      </g>
      <Sq cx={524} cy={105} t="261" />
      <Ci cx={563} cy={105} t="270" />
      <Di cx={543.5} cy={139} t="604" fill={BLUE} />
      <Sq cx={604} cy={105} t="197" />
      <Ci cx={644} cy={105} t="215" />
      <Di cx={624} cy={139} t="277" fill={PURPLE} />
      <Di cx={725} cy={110} t="413" fill={PURPLE} />
      <Di cx={698} cy={137} t="185" fill={BLUE} />
      <Di cx={753} cy={137} t="273" fill={ORANGE} />
      <Di cx={806} cy={124} t="13" fill={ORANGE} />

      {/* Population controls */}
      <rect x={853} y={50} width={211} height={114} rx={11} fill="#f0f0f0" stroke="#dcdcdc" strokeWidth={2} />
      <rect x={856} y={67} width={205} height={94} rx={9} fill="#fff" />
      <text x={958} y={63} textAnchor="middle" fontSize={14} fontWeight="bold" fill="#111">Population controls</text>
      <text x={903} y={82} textAnchor="middle" fontSize={12} fill="#222">TOPMed</text>
      <text x={1001} y={82} textAnchor="middle" fontSize={12} fill="#222">1000 Genomes Proj.</text>
      <path d="M868 86 H937 M957 86 H1045" stroke="#d0d0d0" strokeWidth={2} />
      <Di cx={890} cy={113} t="2,709" fill={GRAY} fs={10.5} />
      <Di cx={917} cy={138} t="2,351" fill={GRAY} fs={10.5} />
      <text x={904} y={104} fontSize={12} fill="#222">BioMe</text>
      <text x={867} y={154} fontSize={12} fill="#222">MESA</text>
      <path d="M993 106 H1008 M1000 106 V122" stroke={link} strokeWidth={3} fill="none" />
      <Sq cx={980} cy={106} t="535" />
      <Ci cx={1021} cy={107} t="538" />
      <Di cx={1000} cy={140} t="532" fill={GRAY} />

      {/* Panel C legend */}
      {pcaGroups.map((g, i) => (
        <g key={i}>
          <circle cx={382} cy={321 + i * 12.4} r={4.6} fill={pcaColors[i]} stroke="#555" strokeWidth={0.9} />
          <text x={391} y={324.6 + i * 12.4} fontSize={10} fill="#333">{g}</text>
        </g>
      ))}

      {/* Panel E legend */}
      {freqLabels.map((l, i) => (
        <g key={i}>
          <rect x={1002} y={260 + i * 9.6} width={8} height={8} fill={freqColors[i]} />
          <text x={1013} y={268 + i * 9.6} fontSize={12} fill="#222">{l}</text>
        </g>
      ))}

      {/* Panel F / G axis titles */}
      <text x={593} y={426} textAnchor="middle" fontSize={13} fill="#222" style={{ whiteSpace: "pre" }}>
        SV size (log<tspan fontSize={8.5} dy={3}>10</tspan><tspan dy={-3}>)</tspan>
      </text>
      <text x={771} y={426} textAnchor="middle" fontSize={13} fill="#222" style={{ whiteSpace: "pre" }}>
        SV size (log<tspan fontSize={8.5} dy={3}>10</tspan><tspan dy={-3}>)</tspan>
      </text>

      {/* Panel G brackets */}
      <text x={783} y={324} fontSize={10} fill="#222" style={{ whiteSpace: "pre" }}>
        All <tspan fontStyle="italic">P</tspan> ≤ 2.4x10<tspan fontSize={7} dy={-4}>-6</tspan>
      </text>
      <g stroke="#333" strokeWidth={1.2} fill="none">
        <path d="M797 328 H843 V372 H832" />
        <path d="M827 352 H832 V392 H827" />
      </g>

      {/* Panel H brackets + legend */}
      <g stroke="#333" strokeWidth={1.2} fill="none">
        <path d="M1033 338 H1065 V377 H1003" />
        <path d="M1008 358 H1013 V395 H999" />
      </g>
      <text x={1047} y={358} textAnchor="middle" fontSize={10} fill="#222" style={{ whiteSpace: "pre" }}>
        All <tspan fontStyle="italic">P</tspan> ≤
      </text>
      <text x={1045} y={370} textAnchor="middle" fontSize={10} fill="#222" style={{ whiteSpace: "pre" }}>
        1.6x10<tspan fontSize={7} dy={-4}>-7</tspan>
      </text>
      <rect x={910} y={409} width={8} height={8} fill={hColors[0]} />
      <text x={920} y={417.5} fontSize={12} fill="#222">Gene−disruptive</text>
      <rect x={910} y={423} width={8} height={8} fill={hColors[1]} />
      <text x={920} y={431.5} fontSize={12} fill="#222">Other coding</text>
      <rect x={1016} y={416} width={8} height={8} fill={hColors[2]} />
      <text x={1027} y={424.5} fontSize={12} fill="#222">Intronic</text>
    </svg>
  );
}

export default function App() {
  return (
    <div style={{ position: "fixed", left: 0, top: 0, width: 1080, height: 443, background: "#fff", overflow: "hidden", fontFamily: FONT }}>
      <ChartCanvas x={235} y={188} w={240} h={240} make={configC} />
      <ChartCanvas x={489} y={178} w={372} h={120} make={configD} />
      <ChartCanvas x={850} y={183} w={230} h={108} make={configE} />
      <ChartCanvas x={480} y={305} w={170} h={115} make={configF} />
      <ChartCanvas x={655} y={305} w={180} h={115} make={configG} />
      <ChartCanvas x={840} y={300} w={240} h={110} make={configH} />
      <Overlay />
    </div>
  );
}
